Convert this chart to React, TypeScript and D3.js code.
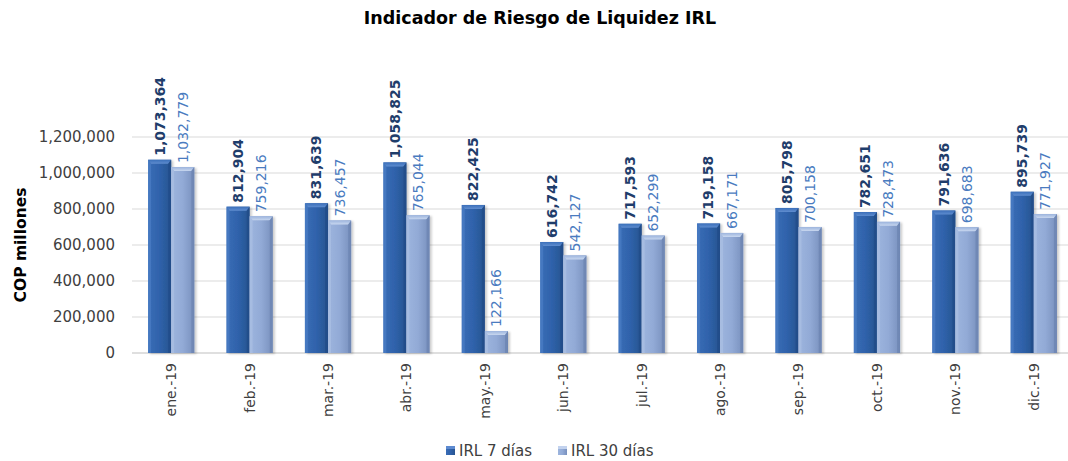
import React from 'react';
import * as d3 from 'd3';

const months = ['ene.-19', 'feb.-19', 'mar.-19', 'abr.-19', 'may.-19', 'jun.-19', 'jul.-19', 'ago.-19', 'sep.-19', 'oct.-19', 'nov.-19', 'dic.-19'];
const irl7 = [1073364, 812904, 831639, 1058825, 822425, 616742, 717593, 719158, 805798, 782651, 791636, 895739];
const irl30 = [1032779, 759216, 736457, 765044, 122166, 542127, 652299, 667171, 700158, 728473, 698683, 771927];
const yTicks = [0, 200000, 400000, 600000, 800000, 1000000, 1200000];
const seriesNames = ['IRL 7 días', 'IRL 30 días'];

const W = 1068;
const H = 461;
const margin = { top: 137, right: -5, bottom: 108, left: 132 };
const FONT = '"DejaVu Sans", sans-serif';

const fmt = d3.format(',');

const App: React.FC = () => {
  const x0 = d3.scaleBand<string>()
    .domain(months)
    .range([margin.left, W - margin.right])
    .paddingInner(0.41)
    .paddingOuter(0.205);
  const x1 = d3.scaleBand<string>()
    .domain(['7', '30'])
    .range([0, x0.bandwidth()]);
  const y = d3.scaleLinear()
    .domain([0, 1200000])
    .range([H - margin.bottom, margin.top]);

  const bw = x1.bandwidth();
  const base = y(0);

  // one bar with a bevelled top
  const bar = (x: number, v: number, kind: 'd' | 'l', key: string) => {
    const top = y(v);
    const cap = 4;
    const h = base - top;
    return (
      <g key={key} filter="url(#shadow)">
        <rect x={x} y={top} width={bw} height={h} fill={`url(#body-${kind})`} />
        <polygon
          points={`${x},${top} ${x + bw},${top} ${x + bw - 3},${top + cap} ${x + 3},${top + cap}`}
          fill={`url(#cap-${kind})`}
        />
        <polygon points={`${x},${top} ${x + 3},${top + cap} ${x + 3},${base} ${x},${base}`} fill={kind === 'd' ? '#4d80c8' : '#aec2e4'} opacity={0.6} />
        <polygon points={`${x + bw},${top} ${x + bw - 3},${top + cap} ${x + bw - 3},${base} ${x + bw},${base}`} fill={kind === 'd' ? '#1f4a86' : '#6880ad'} opacity={0.6} />
      </g>
    );
  };

  return (
    <svg width={W} height={H} style={{ position: 'absolute', left: 0, top: 0, background: '#fff' }}>
      <defs>
        <linearGradient id="body-d" x1="0" x2="1" y1="0" y2="0">
          <stop offset="0" stopColor="#3a6db6" />
          <stop offset="0.5" stopColor="#2f62ab" />
          <stop offset="1" stopColor="#27548f" />
        </linearGradient>
        <linearGradient id="body-l" x1="0" x2="1" y1="0" y2="0">
          <stop offset="0" stopColor="#9db5de" />
          <stop offset="0.5" stopColor="#92aad6" />
          <stop offset="1" stopColor="#7890bd" />
        </linearGradient>
        <linearGradient id="cap-d" x1="0" x2="0" y1="0" y2="1">
          <stop offset="0" stopColor="#3b6fba" />
          <stop offset="1" stopColor="#5f8dcf" />
        </linearGradient>
        <linearGradient id="cap-l" x1="0" x2="0" y1="0" y2="1">
          <stop offset="0" stopColor="#9cb4dd" />
          <stop offset="1" stopColor="#c8d7ef" />
        </linearGradient>
        <filter id="shadow" x="-20%" y="-5%" width="150%" height="110%">
          <feDropShadow dx="2" dy="1" stdDeviation="1.2" floodColor="#000" floodOpacity="0.2" />
        </filter>
      </defs>

      <text x={540} y={24} textAnchor="middle" fontFamily={FONT} fontWeight="bold" fontSize={17.5} fill="#000">
        Indicador de Riesgo de Liquidez IRL
      </text>

      {yTicks.map(t => (
        <g key={t}>
          {t > 0 && <line x1={margin.left} x2={W} y1={y(t)} y2={y(t)} stroke="#d9d9d9" strokeWidth={1} />}
          <text x={115} y={y(t)} dy="0.35em" textAnchor="end" fontFamily={FONT} fontSize={15} fill="#404040">
            {fmt(t)}
          </text>
        </g>
      ))}
      <line x1={margin.left} x2={W} y1={base} y2={base} stroke="#bfbfbf" strokeWidth={1} />

      <text
        transform={`translate(26,${(y(0) + y(1200000)) / 2}) rotate(-90)`}
        textAnchor="middle"
        fontFamily={FONT}
        fontWeight="bold"
        fontSize={15.5}
        fill="#000"
      >
        COP millones
      </text>

      {months.map((m, i) => {
        const gx = x0(m)!;
        const xa = gx + x1('7')!;
        const xb = gx + x1('30')!;
        const cx = gx + x0.bandwidth() / 2;
        return (
          <g key={m}>
            {bar(xa, irl7[i], 'd', 'a')}
            {bar(xb, irl30[i], 'l', 'b')}
            <text
              transform={`translate(${xa + bw / 2},${y(irl7[i]) - 4}) rotate(-90)`}
              dy="0.35em"
              fontFamily={FONT}
              fontWeight="bold"
              fontSize={14}
              fill="#1f3d6b"
            >
              {fmt(irl7[i])}
            </text>
            <text
              transform={`translate(${xb + bw / 2},${y(irl30[i]) - 4}) rotate(-90)`}
              dy="0.35em"
              fontFamily={FONT}
              fontSize={14}
              fill="#4a7bbf"
            >
              {fmt(irl30[i])}
            </text>
            <text
              transform={`translate(${cx},${base + 10}) rotate(-90)`}
              dy="0.35em"
              textAnchor="end"
              fontFamily={FONT}
              fontSize={14}
              fill="#404040"
            >
              {m}
            </text>
          </g>
        );
      })}

      {seriesNames.map((s, i) => {
        const lx = i === 0 ? 446 : 558;
        return (
          <g key={s}>
            <rect x={lx} y={446} width={9} height={9} fill={`url(#body-${i === 0 ? 'd' : 'l'})`} />
            <rect x={lx} y={446} width={9} height={3} fill={i === 0 ? '#5d8ad0' : '#c2d2ee'} />
            <text x={lx + 13} y={451} dy="0.35em" fontFamily={FONT} fontSize={15} fill="#404040">
              {s}
            </text>
          </g>
        );
      })}
    </svg>
  );
};

export default App;
